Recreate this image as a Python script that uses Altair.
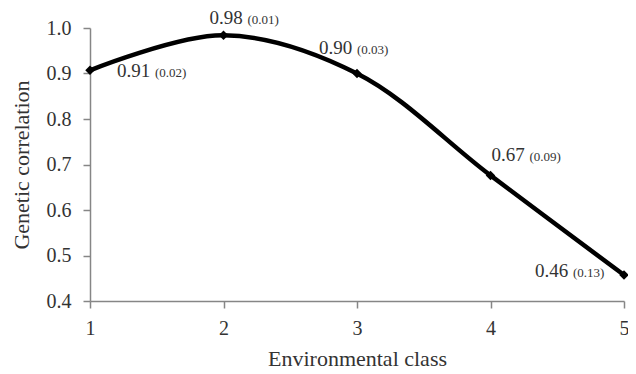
import altair as alt
import pandas as pd

# Data
env_class = [1, 2, 3, 4, 5]
corr = [0.907, 0.984, 0.900, 0.676, 0.457]
corr_label = ["0.91", "0.98", "0.90", "0.67", "0.46"]
se_label = ["(0.02)", "(0.01)", "(0.03)", "(0.09)", "(0.13)"]

df = pd.DataFrame({"x": env_class, "y": corr, "lab": corr_label, "se": se_label})

# label offsets (pixels) relative to each point
offsets = [(27, 7), (-14, -11), (-38, -20), (1, -14), (-89, 2)]

FONT = "Liberation Serif"
TXT = "#333333"
W, H = 534, 273

x_enc = alt.X("x:Q", scale=alt.Scale(domain=[1, 5], nice=False),
              axis=alt.Axis(values=env_class, format="d", title="Environmental class",
                            labelFlush=False,
                            titleBaseline="alphabetic", titleY=64, titleX=W / 2))
y_enc = alt.Y("y:Q", scale=alt.Scale(domain=[0.4, 1.0], nice=False, zero=False),
              axis=alt.Axis(values=[0.4, 0.5, 0.6, 0.7, 0.8, 0.9, 1.0], format=".1f",
                            title="Genetic correlation", titleAngle=-90,
                            titleBaseline="alphabetic", titleX=-62, titleY=H / 2,
                            titleAlign="center"))

base = alt.Chart(df)

line = base.mark_line(interpolate="catmull-rom", color="black", strokeWidth=4.5).encode(x=x_enc, y=y_enc)
pts = base.mark_point(shape="diamond", filled=True, color="black", size=90, opacity=1).encode(x="x:Q", y="y:Q")

layers = [line, pts]
for i, (dx, dy) in enumerate(offsets):
    sub = base.transform_filter(alt.datum.x == env_class[i])
    layers.append(sub.mark_text(align="left", baseline="alphabetic", dx=dx, dy=dy,
                                font=FONT, fontSize=19, color=TXT).encode(x="x:Q", y="y:Q", text="lab:N"))
    layers.append(sub.mark_text(align="left", baseline="alphabetic", dx=dx + 38, dy=dy,
                                font=FONT, fontSize=13, color=TXT).encode(x="x:Q", y="y:Q", text="se:N"))

chart = alt.layer(*layers).properties(
    width=W, height=H, autosize="none",
    padding={"left": 82, "top": 20, "right": 4, "bottom": 72},
).configure_view(stroke=None).configure_axis(
    grid=False, domainColor="#868686", domainWidth=1.5, tickColor="#868686", tickWidth=1.5,
    tickSize=7, labelFont=FONT, labelFontSize=20, labelColor=TXT, labelPadding=12,
    titleFont=FONT, titleFontSize=22, titleFontWeight="normal", titleColor=TXT,
).configure_axisX(labelPadding=10)

chart.save("out.html", embed_options={"renderer": "svg", "actions": False})
